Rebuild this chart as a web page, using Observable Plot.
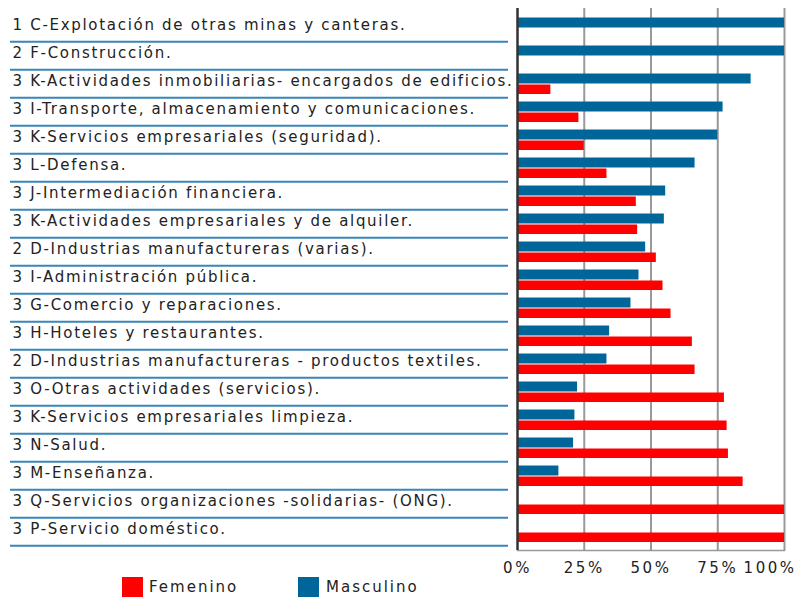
<!DOCTYPE html>
<html>
<head>
<meta charset="utf-8">
<script src="https://cdn.jsdelivr.net/npm/d3@7"></script>
<script src="https://cdn.jsdelivr.net/npm/@observablehq/plot@0.6"></script>
<style>
  body { margin: 0; background: #fff; font-family: "DejaVu Sans", sans-serif; }
  #chart svg { display: block; }
  g[aria-label="text"] text { letter-spacing: 1.7px; }
  g[aria-label="text"].xlab text { letter-spacing: 2.5px; }
  #legend { position: relative; width: 797px; height: 21px; margin-top: -4px; overflow: hidden; font-size: 15px; color: #222; letter-spacing: 2px; }
  #legend .sw { position: absolute; top: 1px; width: 21px; height: 21px; }
  #legend .lb { position: absolute; top: 3px; line-height: 16px; }
</style>
</head>
<body>
<div id="chart"></div>
<div id="legend"></div>
<script>
const categorias = [
  "1 C-Explotación de otras minas y canteras.",
  "2 F-Construcción.",
  "3 K-Actividades inmobiliarias- encargados de edificios.",
  "3 I-Transporte, almacenamiento y comunicaciones.",
  "3 K-Servicios empresariales (seguridad).",
  "3 L-Defensa.",
  "3 J-Intermediación financiera.",
  "3 K-Actividades empresariales y de alquiler.",
  "2 D-Industrias manufactureras (varias).",
  "3 I-Administración pública.",
  "3 G-Comercio y reparaciones.",
  "3 H-Hoteles y restaurantes.",
  "2 D-Industrias manufactureras - productos textiles.",
  "3 O-Otras actividades (servicios).",
  "3 K-Servicios empresariales limpieza.",
  "3 N-Salud.",
  "3 M-Enseñanza.",
  "3 Q-Servicios organizaciones -solidarias- (ONG).",
  "3 P-Servicio doméstico."
];
const masculino = [100, 100, 87.5, 77, 75, 66.5, 55.5, 55, 48, 45.5, 42.5, 34.5, 33.5, 22.5, 21.5, 21, 15.5, 0, 0];
const femenino  = [0, 0, 12.5, 23, 25, 33.5, 44.5, 45, 52, 54.5, 57.5, 65.5, 66.5, 77.5, 78.5, 79, 84.5, 100, 100];
const ticksX = [0, 25, 50, 75, 100];
const series = ["Femenino", "Masculino"];
const colores = ["#ff0000", "#006699"];

const masc = categorias.map((c, i) => ({cat: c, v: masculino[i]}));
const fem = categorias.map((c, i) => ({cat: c, v: femenino[i]}));
const fmt = d => d + "%";

const chart = Plot.plot({
  width: 797,
  height: 580,
  marginLeft: 517,
  marginRight: 13,
  marginTop: 8,
  marginBottom: 30,
  style: {fontFamily: "DejaVu Sans", fontSize: "15px", color: "#222", background: "#fff"},
  x: {domain: [0, 100], ticks: ticksX, axis: null},
  y: {domain: categorias, padding: 0, axis: null},
  marks: [
    Plot.gridX(ticksX.slice(1), {stroke: "#999", strokeOpacity: 1, strokeWidth: 2}),
    Plot.frame({anchor: "bottom", stroke: "#999", strokeWidth: 1.5}),
    Plot.barX(masc, {x: "v", y: "cat", fill: colores[1], insetTop: 4.5, insetBottom: 13.5}),
    Plot.barX(fem, {x: "v", y: "cat", fill: colores[0], insetTop: 15.5, insetBottom: 3}),
    Plot.ruleX([0], {stroke: "#333", strokeWidth: 2.5}),
    Plot.axisY({tickSize: 498, dx: -9, dy: 14.26, stroke: "#3a86b8", strokeWidth: 2, tickFormat: () => "", label: null}),
    Plot.text(categorias, {y: d => d, frameAnchor: "left", textAnchor: "start", dx: -505, dy: -2.5, fill: "#222"}),
    Plot.text(ticksX.slice(0, -1), {x: d => d, text: fmt, frameAnchor: "bottom", dy: 22, fill: "#222", className: "xlab"}),
    Plot.text(ticksX.slice(-1), {x: d => d, text: fmt, frameAnchor: "bottom", textAnchor: "end", dx: 12, dy: 22, fill: "#222", className: "xlab"})
  ]
});
document.getElementById("chart").appendChild(chart);

const legend = document.getElementById("legend");
const pos = [{sw: 122, lb: 149}, {sw: 298, lb: 326}];
series.forEach((s, i) => {
  const sw = document.createElement("div");
  sw.className = "sw";
  sw.style.left = pos[i].sw + "px";
  sw.style.background = colores[i];
  legend.appendChild(sw);
  const lb = document.createElement("div");
  lb.className = "lb";
  lb.style.left = pos[i].lb + "px";
  lb.textContent = s;
  legend.appendChild(lb);
});
</script>
</body>
</html>
